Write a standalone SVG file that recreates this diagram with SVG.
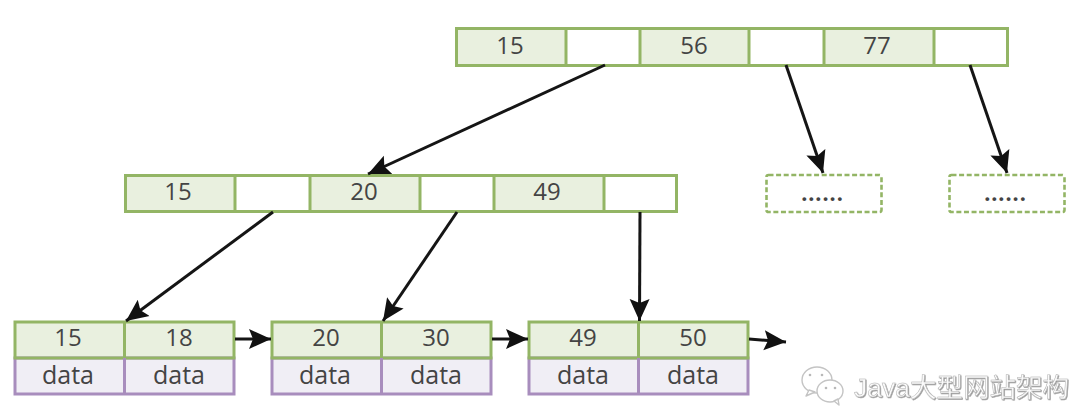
<svg xmlns="http://www.w3.org/2000/svg" width="1087" height="419" viewBox="0 0 1087 419">
  <style>
    .key { fill: #e9f0df; }
    .ptr { fill: #ffffff; }
    .frame { fill: none; stroke: #93b565; stroke-width: 3; }
    .div { stroke: #93b565; stroke-width: 3; }
    .dat { fill: #f0eef5; }
    .dframe { fill: none; stroke: #a88dbd; stroke-width: 3; }
    .ddiv { stroke: #a88dbd; stroke-width: 3; }
    .dash { fill: #ffffff; stroke: #93b565; stroke-width: 2.6; stroke-dasharray: 5 2.6; }
    text { font-family: "Open Sans", "Noto Sans", "Liberation Sans", sans-serif; font-size: 24px; fill: #444444; text-anchor: middle; }
    .dots { font-size: 26px; font-weight: 600; }
    .word { font-size: 25px; }
    .wire { fill: none; stroke: #151515; stroke-width: 3; marker-end: url(#head); }
    .mark { font-family: "Liberation Sans", "Noto Sans CJK SC", sans-serif; font-size: 26.5px; fill: #fbfbfb; stroke: #b4b4b4; stroke-width: 0.5; text-anchor: start; filter: url(#emboss); }
    .chat { fill: #ffffff; stroke: #c4c4c4; stroke-width: 1.4; stroke-linejoin: round; }
    .eye { fill: #b8b8b8; }
  </style>
  <defs>
    <marker id="head" markerUnits="userSpaceOnUse" markerWidth="24" markerHeight="22" refX="22" refY="11" orient="auto">
      <path d="M0 1 L22 11 L0 21 L4 11 Z" fill="#111111"/>
    </marker>
    <!-- light offset shadow for the lettering at the lower right -->
    <filter id="emboss" x="-5%" y="-10%" width="110%" height="125%">
      <feDropShadow dx="0.8" dy="0.8" stdDeviation="0.3" flood-color="#8c8c8c"/>
    </filter>
  </defs>

  <g id="root-node">
    <rect class="key" x="456" y="28" width="110" height="38"/>
    <rect class="ptr" x="566" y="28" width="74" height="38"/>
    <rect class="key" x="640" y="28" width="109" height="38"/>
    <rect class="ptr" x="749" y="28" width="75" height="38"/>
    <rect class="key" x="824" y="28" width="110" height="38"/>
    <rect class="ptr" x="934" y="28" width="74" height="38"/>
    <rect class="frame" x="456.500" y="28.500" width="551" height="37"/>
    <path class="div" d="M566 28V66M640 28V66M749 28V66M824 28V66M934 28V66"/>
    <text x="510" y="54">15</text>
    <text x="694" y="54">56</text>
    <text x="877" y="54">77</text>
  </g>

  <g id="inner-node">
    <rect class="key" x="124" y="175" width="111" height="37"/>
    <rect class="ptr" x="235" y="175" width="75" height="37"/>
    <rect class="key" x="310" y="175" width="110" height="37"/>
    <rect class="ptr" x="420" y="175" width="74" height="37"/>
    <rect class="key" x="494" y="175" width="110" height="37"/>
    <rect class="ptr" x="604" y="175" width="74" height="37"/>
    <rect class="frame" x="125.500" y="175.500" width="551" height="36"/>
    <path class="div" d="M235 175V212M310 175V212M420 175V212M494 175V212M604 175V212"/>
    <text x="178" y="199.500">15</text>
    <text x="364" y="199.500">20</text>
    <text x="547" y="199.500">49</text>
  </g>

  <g id="stub-left">
    <rect class="dash" x="766.500" y="175" width="115" height="37" rx="2"/>
    <text class="dots" x="822" y="201">......</text>
  </g>
  <g id="stub-right">
    <rect class="dash" x="949.500" y="175" width="115" height="37" rx="2"/>
    <text class="dots" x="1005" y="201">......</text>
  </g>

  <g id="leaf-1">
    <rect class="key" x="14" y="322" width="221" height="36"/>
    <rect class="dat" x="14" y="358" width="221" height="37"/>
    <rect class="dframe" x="15" y="358" width="219" height="36"/>
    <rect class="frame" x="15" y="322" width="219" height="36"/>
    <path class="ddiv" d="M124.500 358V395"/>
    <path class="div" d="M124.500 322V358"/>
    <text x="68" y="346">15</text>
    <text x="179" y="346">18</text>
    <text class="word" x="68" y="384">data</text>
    <text class="word" x="179" y="384">data</text>
  </g>
  <g id="leaf-2">
    <rect class="key" x="271" y="322" width="221" height="36"/>
    <rect class="dat" x="271" y="358" width="221" height="37"/>
    <rect class="dframe" x="272" y="358" width="219" height="36"/>
    <rect class="frame" x="272" y="322" width="219" height="36"/>
    <path class="ddiv" d="M381.500 358V395"/>
    <path class="div" d="M381.500 322V358"/>
    <text x="326" y="346">20</text>
    <text x="436" y="346">30</text>
    <text class="word" x="325" y="384">data</text>
    <text class="word" x="436" y="384">data</text>
  </g>
  <g id="leaf-3">
    <rect class="key" x="528" y="322" width="221" height="36"/>
    <rect class="dat" x="528" y="358" width="221" height="37"/>
    <rect class="dframe" x="529" y="358" width="219" height="36"/>
    <rect class="frame" x="529" y="322" width="219" height="36"/>
    <path class="ddiv" d="M638.500 358V395"/>
    <path class="div" d="M638.500 322V358"/>
    <text x="583" y="346">49</text>
    <text x="693" y="346">50</text>
    <text class="word" x="583" y="384">data</text>
    <text class="word" x="693" y="384">data</text>
  </g>

  <g id="connectors">
    <path class="wire" d="M605 65L368 174"/>
    <path class="wire" d="M786 65L823 173"/>
    <path class="wire" d="M970 65L1007 173"/>
    <path class="wire" d="M273 212L126 321"/>
    <path class="wire" d="M457 212L383 321"/>
    <path class="wire" d="M640 212L639.500 321"/>
    <path class="wire" d="M235 339L271 339"/>
    <path class="wire" d="M492 339L528 339"/>
    <path class="wire" d="M749 339L786 342"/>
  </g>

  <g id="watermark">
    <ellipse class="chat" cx="817" cy="380" rx="15" ry="13"/>
    <path class="chat" d="M809 390L806 396L815 392Z"/>
    <ellipse class="chat" cx="830" cy="391" rx="13" ry="11"/>
    <path class="chat" d="M834 401L839 405L838 399Z"/>
    <circle class="eye" cx="810" cy="375" r="1.300"/>
    <circle class="eye" cx="822" cy="375" r="1.300"/>
    <circle class="eye" cx="826" cy="388" r="1.300"/>
    <circle class="eye" cx="835" cy="388" r="1.300"/>
    <text class="mark" x="854" y="397">Java大型网站架构</text>
  </g>
</svg>
